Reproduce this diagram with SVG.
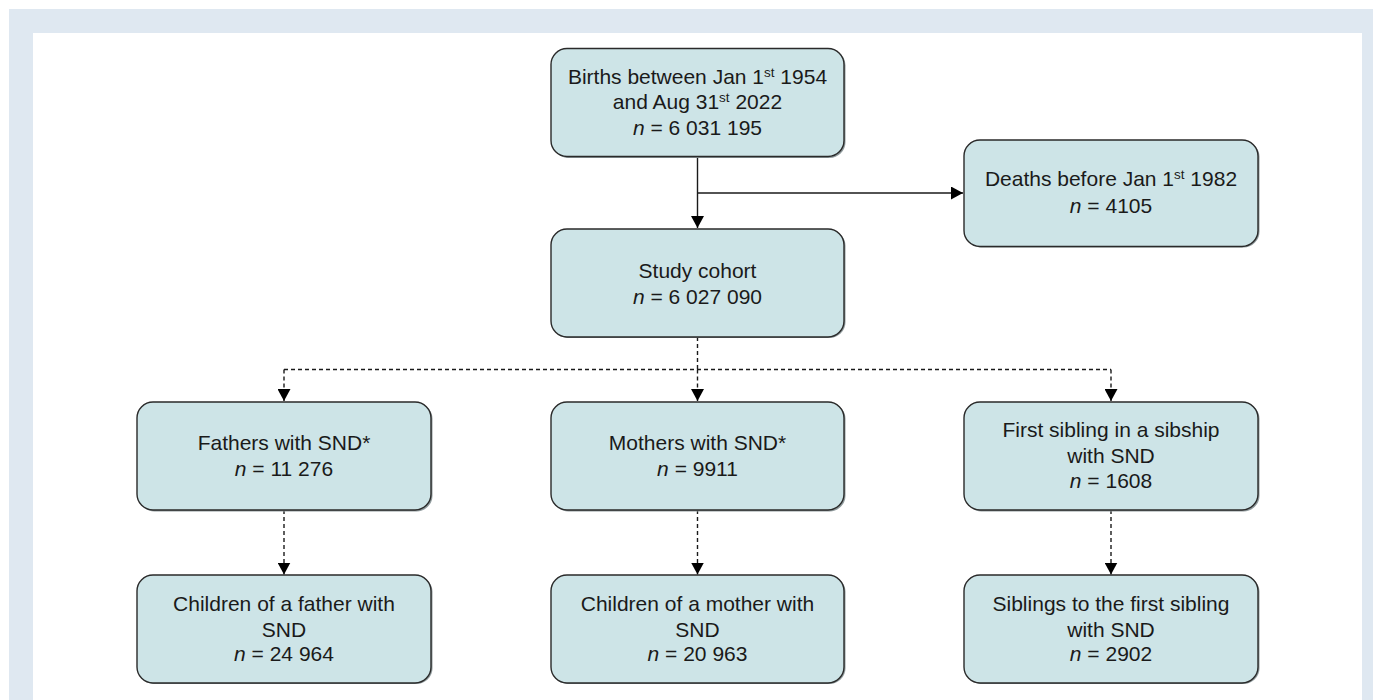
<svg xmlns="http://www.w3.org/2000/svg" width="1373" height="700" viewBox="0 0 1373 700">
  <defs>
    <style>
      .box { fill: #cde4e7; stroke: #2a2a2a; stroke-width: 1.4; }
      .shadow { fill: #8f9a9c; }
      .t { font-family: "Liberation Sans", Arial, sans-serif; font-size: 21px; fill: #1a1a1a; text-anchor: middle; }
      .sup { font-size: 13.5px; }
      .solid { fill: none; stroke: #1a1a1a; stroke-width: 1.4; }
      .dash { fill: none; stroke: #1a1a1a; stroke-width: 1.4; stroke-dasharray: 4 3; }
    </style>
    <marker id="arr" viewBox="0 0 12 13" refX="12" refY="6.5" markerWidth="12" markerHeight="13" markerUnits="userSpaceOnUse" orient="auto">
      <path d="M0,0 L12,6.5 L0,13 Z" fill="#000"/>
    </marker>
  </defs>

  <rect x="9" y="9" width="1364" height="691" fill="#dfe8f1"/>
  <rect x="33" y="33" width="1329" height="667" fill="#ffffff"/>

  <g id="connectors">
    <line class="solid" x1="697.5" y1="157" x2="697.5" y2="228" marker-end="url(#arr)"/>
    <line class="solid" x1="697.5" y1="193" x2="963" y2="193" marker-end="url(#arr)"/>
    <line class="dash" x1="697.5" y1="337" x2="697.5" y2="369.5"/>
    <line class="dash" x1="284" y1="369.5" x2="1111" y2="369.5"/>
    <line class="dash" x1="284" y1="369.5" x2="284" y2="401" marker-end="url(#arr)"/>
    <line class="dash" x1="697.5" y1="369.5" x2="697.5" y2="401" marker-end="url(#arr)"/>
    <line class="dash" x1="1111" y1="369.5" x2="1111" y2="401" marker-end="url(#arr)"/>
    <line class="dash" x1="284" y1="510" x2="284" y2="574.5" marker-end="url(#arr)"/>
    <line class="dash" x1="697.5" y1="510" x2="697.5" y2="574.5" marker-end="url(#arr)"/>
    <line class="dash" x1="1111" y1="510" x2="1111" y2="574.5" marker-end="url(#arr)"/>
  </g>

  <g id="births">
    <rect class="shadow" x="552.5" y="49.5" width="293" height="108.5" rx="16"/>
    <rect class="box" x="551" y="48.5" width="293" height="108" rx="16"/>
    <text class="t" x="697.5" y="83.5">Births between Jan 1<tspan class="sup" dy="-7">st</tspan><tspan dy="7"> 1954</tspan></text>
    <text class="t" x="697.5" y="108.5">and Aug 31<tspan class="sup" dy="-7">st</tspan><tspan dy="7"> 2022</tspan></text>
    <text class="t" x="697.5" y="135"><tspan font-style="italic">n</tspan> = 6 031 195</text>
  </g>

  <g id="deaths">
    <rect class="shadow" x="965.5" y="141" width="294" height="106.5" rx="16"/>
    <rect class="box" x="964" y="140" width="294" height="106.5" rx="16"/>
    <text class="t" x="1111" y="186">Deaths before Jan 1<tspan class="sup" dy="-7">st</tspan><tspan dy="7"> 1982</tspan></text>
    <text class="t" x="1111" y="212.5"><tspan font-style="italic">n</tspan> = 4105</text>
  </g>

  <g id="cohort">
    <rect class="shadow" x="552.5" y="230" width="293" height="108" rx="16"/>
    <rect class="box" x="551" y="229" width="293" height="108" rx="16"/>
    <text class="t" x="697.5" y="277.5">Study cohort</text>
    <text class="t" x="697.5" y="303.5"><tspan font-style="italic">n</tspan> = 6 027 090</text>
  </g>

  <g id="fathers">
    <rect class="shadow" x="138.5" y="403" width="294" height="108.5" rx="16"/>
    <rect class="box" x="137" y="402" width="294" height="108" rx="16"/>
    <text class="t" x="284" y="450">Fathers with SND*</text>
    <text class="t" x="284" y="476"><tspan font-style="italic">n</tspan> = 11 276</text>
  </g>

  <g id="mothers">
    <rect class="shadow" x="552.5" y="403" width="293" height="108.5" rx="16"/>
    <rect class="box" x="551" y="402" width="293" height="108" rx="16"/>
    <text class="t" x="697.5" y="450">Mothers with SND*</text>
    <text class="t" x="697.5" y="476"><tspan font-style="italic">n</tspan> = 9911</text>
  </g>

  <g id="firstsibling">
    <rect class="shadow" x="965.5" y="403" width="294" height="108.5" rx="16"/>
    <rect class="box" x="964" y="402" width="294" height="108" rx="16"/>
    <text class="t" x="1111" y="437">First sibling in a sibship</text>
    <text class="t" x="1111" y="463">with SND</text>
    <text class="t" x="1111" y="488"><tspan font-style="italic">n</tspan> = 1608</text>
  </g>

  <g id="childrenfather">
    <rect class="shadow" x="138.5" y="576" width="294" height="108" rx="16"/>
    <rect class="box" x="137" y="575" width="294" height="108" rx="16"/>
    <text class="t" x="284" y="611">Children of a father with</text>
    <text class="t" x="284" y="637">SND</text>
    <text class="t" x="284" y="661"><tspan font-style="italic">n</tspan> = 24 964</text>
  </g>

  <g id="childrenmother">
    <rect class="shadow" x="552.5" y="576" width="293" height="108" rx="16"/>
    <rect class="box" x="551" y="575" width="293" height="108" rx="16"/>
    <text class="t" x="697.5" y="611">Children of a mother with</text>
    <text class="t" x="697.5" y="637">SND</text>
    <text class="t" x="697.5" y="661"><tspan font-style="italic">n</tspan> = 20 963</text>
  </g>

  <g id="siblings">
    <rect class="shadow" x="965.5" y="576" width="294" height="108" rx="16"/>
    <rect class="box" x="964" y="575" width="294" height="108" rx="16"/>
    <text class="t" x="1111" y="611">Siblings to the first sibling</text>
    <text class="t" x="1111" y="637">with SND</text>
    <text class="t" x="1111" y="661"><tspan font-style="italic">n</tspan> = 2902</text>
  </g>
</svg>
